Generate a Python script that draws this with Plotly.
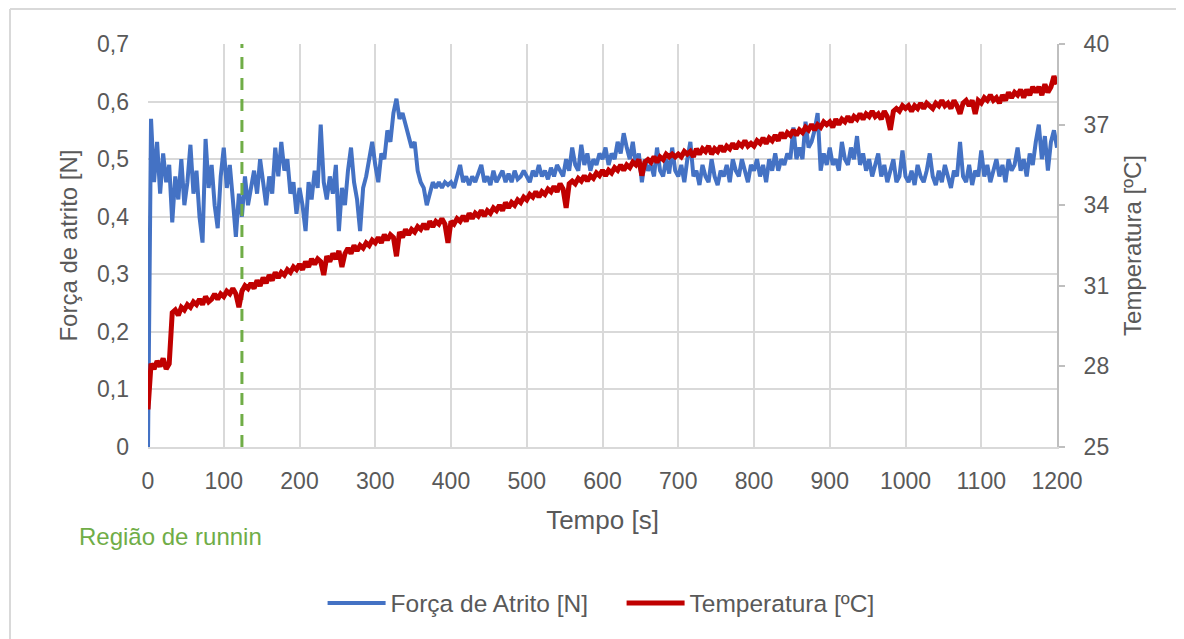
import numpy as np
import plotly.graph_objects as go

# time axis (s), 4 s sampling
time_s = list(range(0, 1201, 4))

# Força de Atrito [N]
forca = [
    0.00, 0.57, 0.46, 0.53, 0.44, 0.51, 0.46, 0.49, 0.39, 0.47, 0.43, 0.50, 0.42, 0.46, 0.525, 0.44, 0.48, 0.40, 0.355, 0.535, 0.45, 0.49, 0.42, 0.38, 0.47,
    0.52, 0.45, 0.49, 0.43, 0.365, 0.44, 0.40, 0.47, 0.42, 0.45, 0.48, 0.44, 0.50, 0.46, 0.42, 0.47, 0.44, 0.52, 0.47, 0.53, 0.48, 0.50, 0.44, 0.46, 0.405,
    0.45, 0.42, 0.375, 0.46, 0.43, 0.48, 0.45, 0.56, 0.46, 0.43, 0.47, 0.44, 0.49, 0.375, 0.45, 0.42, 0.48, 0.52, 0.46, 0.43, 0.375, 0.45, 0.47, 0.50, 0.53,
    0.49, 0.46, 0.51, 0.50, 0.55, 0.53, 0.58, 0.605, 0.57, 0.58, 0.56, 0.54, 0.52, 0.53, 0.48, 0.46, 0.45, 0.42, 0.44, 0.46, 0.45, 0.46, 0.45, 0.46, 0.455,
    0.46, 0.45, 0.47, 0.49, 0.46, 0.47, 0.455, 0.47, 0.46, 0.475, 0.49, 0.46, 0.47, 0.455, 0.48, 0.46, 0.47, 0.48, 0.46, 0.475, 0.46, 0.48, 0.465, 0.47, 0.48,
    0.47, 0.46, 0.48, 0.47, 0.49, 0.47, 0.48, 0.465, 0.485, 0.47, 0.49, 0.48, 0.47, 0.50, 0.48, 0.52, 0.49, 0.48, 0.525, 0.49, 0.51, 0.48, 0.50, 0.49, 0.51,
    0.50, 0.52, 0.49, 0.51, 0.50, 0.53, 0.51, 0.545, 0.52, 0.50, 0.53, 0.49, 0.51, 0.46, 0.50, 0.48, 0.49, 0.47, 0.52, 0.48, 0.47, 0.50, 0.475, 0.52, 0.48,
    0.47, 0.49, 0.46, 0.50, 0.53, 0.47, 0.48, 0.455, 0.49, 0.47, 0.46, 0.50, 0.47, 0.455, 0.48, 0.47, 0.49, 0.46, 0.50, 0.48, 0.47, 0.50, 0.48, 0.46, 0.49,
    0.48, 0.50, 0.47, 0.49, 0.46, 0.50, 0.48, 0.51, 0.48, 0.50, 0.49, 0.51, 0.50, 0.555, 0.50, 0.52, 0.50, 0.565, 0.52, 0.53, 0.55, 0.58, 0.48, 0.51, 0.49,
    0.52, 0.49, 0.50, 0.48, 0.53, 0.50, 0.49, 0.52, 0.50, 0.54, 0.49, 0.51, 0.48, 0.50, 0.47, 0.49, 0.51, 0.47, 0.49, 0.46, 0.48, 0.50, 0.46, 0.47, 0.515,
    0.47, 0.46, 0.48, 0.455, 0.49, 0.47, 0.46, 0.48, 0.51, 0.47, 0.455, 0.48, 0.46, 0.49, 0.47, 0.45, 0.48, 0.47, 0.53, 0.47, 0.46, 0.49, 0.455, 0.48, 0.47,
    0.515, 0.47, 0.49, 0.46, 0.48, 0.50, 0.47, 0.49, 0.46, 0.50, 0.48, 0.49, 0.52, 0.48, 0.50, 0.47, 0.51, 0.49, 0.53, 0.56, 0.50, 0.54, 0.48, 0.53, 0.55,
    0.52,
]

# Temperatura [ºC]
temperatura = [
    26.4, 28.1, 27.9, 28.2, 28.0, 28.3, 27.9, 28.1, 30.0, 30.1, 29.9, 30.2, 30.1, 30.3, 30.2, 30.4, 30.3, 30.5, 30.3, 30.6, 30.4, 30.5, 30.7, 30.5, 30.7,
    30.6, 30.8, 30.7, 30.9, 30.7, 30.2, 30.8, 31.0, 30.9, 31.1, 30.9, 31.2, 31.0, 31.3, 31.1, 31.4, 31.2, 31.5, 31.3, 31.5, 31.4, 31.6, 31.5, 31.7, 31.6,
    31.8, 31.6, 31.9, 31.7, 32.0, 31.8, 32.0, 31.9, 31.4, 32.1, 31.9, 32.2, 32.0, 32.3, 31.7, 32.2, 32.4, 32.2, 32.5, 32.3, 32.5, 32.4, 32.6, 32.5, 32.7,
    32.6, 32.8, 32.6, 32.9, 32.7, 32.9, 32.8, 32.1, 33.0, 32.8, 33.1, 32.9, 33.1, 33.0, 33.2, 33.1, 33.3, 33.1, 33.4, 33.2, 33.4, 33.3, 33.5, 33.3, 32.6,
    33.4, 33.3, 33.5, 33.4, 33.6, 33.4, 33.7, 33.5, 33.7, 33.6, 33.8, 33.6, 33.8, 33.7, 33.9, 33.8, 34.0, 33.8, 34.1, 33.9, 34.1, 34.0, 34.2, 34.1, 34.3,
    34.2, 34.4, 34.3, 34.5, 34.3, 34.5, 34.4, 34.6, 34.5, 34.7, 34.5, 34.8, 34.6, 33.9, 34.8, 34.9, 34.8, 35.0, 34.9, 35.1, 34.9, 35.1, 35.0, 35.2, 35.1,
    35.3, 35.1, 35.3, 35.2, 35.4, 35.3, 35.5, 35.3, 35.5, 35.4, 35.6, 35.5, 35.7, 35.1, 35.6, 35.7, 35.6, 35.8, 35.6, 35.8, 35.7, 35.9, 35.8, 35.9, 35.8,
    35.9, 35.8, 36.0, 35.9, 36.0, 35.8, 36.1, 35.9, 36.1, 36.0, 36.2, 35.9, 36.1, 36.0, 36.2, 36.0, 36.2, 36.1, 36.3, 36.1, 36.3, 36.2, 36.4, 36.2, 36.3,
    36.2, 36.4, 36.3, 36.5, 36.3, 36.5, 36.4, 36.6, 36.4, 36.7, 36.5, 36.7, 36.6, 36.8, 36.6, 36.8, 36.7, 36.9, 36.8, 37.0, 36.8, 37.0, 36.9, 37.1, 37.0,
    37.1, 36.9, 37.2, 37.0, 37.2, 37.1, 37.3, 37.1, 37.3, 37.2, 37.4, 37.2, 37.4, 37.3, 37.5, 37.3, 37.4, 37.2, 37.5, 37.3, 36.8, 37.5, 37.6, 37.5, 37.7,
    37.6, 37.7, 37.5, 37.7, 37.6, 37.8, 37.6, 37.8, 37.7, 37.6, 37.8, 37.7, 37.9, 37.7, 37.8, 37.6, 37.9, 37.7, 37.4, 37.8, 37.9, 37.7, 37.9, 37.4, 37.9,
    37.8, 38.0, 37.9, 38.1, 37.9, 38.0, 37.8, 38.1, 37.9, 38.2, 38.0, 38.2, 38.1, 38.3, 38.0, 38.3, 38.1, 38.4, 38.2, 38.4, 38.1, 38.5, 38.2, 38.4, 38.8,
    38.5,
]

# end of running-in region (s)
runin_end = [124, 124]
runin_y = [0, 0.7]

x_ticks = list(range(0, 1201, 100))
y1_ticks = [0, 0.1, 0.2, 0.3, 0.4, 0.5, 0.6, 0.7]
y1_labels = ["0", "0,1", "0,2", "0,3", "0,4", "0,5", "0,6", "0,7"]
y2_ticks = [25, 28, 31, 34, 37, 40]

FONT = "Liberation Sans"
GRAY = "#595959"
GRID = "#d9d9d9"
TICK = 23
TITLE = 24

fig = go.Figure()
fig.add_trace(go.Scatter(x=time_s, y=forca, mode="lines", name="Força de Atrito [N]",
                         line=dict(color="#4472C4", width=4)))
fig.add_trace(go.Scatter(x=time_s, y=temperatura, mode="lines", name="Temperatura [ºC]",
                         line=dict(color="#C00000", width=5), yaxis="y2"))
fig.add_trace(go.Scatter(x=runin_end, y=runin_y, mode="lines", showlegend=False,
                         line=dict(color="#70AD47", width=3, dash="12px,9px")))

fig.update_layout(
    width=1176, height=631,
    margin=dict(l=140, r=127, t=36, b=192),
    paper_bgcolor="white", plot_bgcolor="white",
    font=dict(family=FONT, color=GRAY, size=TICK),
    showlegend=True,
    legend=dict(orientation="h", x=0.521, xanchor="center", y=-0.387, yanchor="middle",
                font=dict(size=24.5, color=GRAY), itemwidth=58,
                entrywidth=226, entrywidthmode="pixels"),
    xaxis=dict(range=[0, 1200], tickvals=x_ticks, showgrid=True, gridcolor=GRID, gridwidth=2,
               zeroline=False, showline=True, linecolor=GRID, linewidth=2,
               ticks="", ticklabelstandoff=12, tickfont=dict(size=TICK, color=GRAY),
               title=dict(text="Tempo [s]", font=dict(size=26, color=GRAY), standoff=18)),
    yaxis=dict(range=[0, 0.7], tickvals=y1_ticks, ticktext=y1_labels, showgrid=True,
               gridcolor=GRID, gridwidth=2, zeroline=False, showline=False,
               ticks="", ticklabelstandoff=18, tickfont=dict(size=TICK, color=GRAY),
               title=dict(text="Força de atrito [N]", font=dict(size=TITLE, color=GRAY), standoff=12)),
    yaxis2=dict(range=[25, 40], tickvals=y2_ticks, overlaying="y", side="right",
                showgrid=False, zeroline=False, showline=True, linecolor="#bfbfbf", linewidth=2,
                ticks="outside", ticklen=6, tickcolor="#bfbfbf", tickwidth=2,
                ticklabelstandoff=14, tickfont=dict(size=TICK, color=GRAY),
                title=dict(text="Temperatura [ºC]", font=dict(size=TITLE, color=GRAY), standoff=16)),
    annotations=[dict(text="Região de runnin", xref="paper", yref="paper",
                      x=-0.078, y=-0.223, xanchor="left", yanchor="middle", showarrow=False,
                      font=dict(size=24, color="#70AD47"))],
    shapes=[
        dict(type="line", xref="paper", yref="paper", x0=-0.1518, y0=-0.6,
             x1=-0.1518, y1=1.0868, line=dict(color=GRID, width=2), layer="below"),
        dict(type="line", xref="paper", yref="paper", x0=-0.1518, y0=1.0868,
             x1=1.2, y1=1.0868, line=dict(color=GRID, width=2), layer="below"),
    ],
)

fig.write_html("out.html")
